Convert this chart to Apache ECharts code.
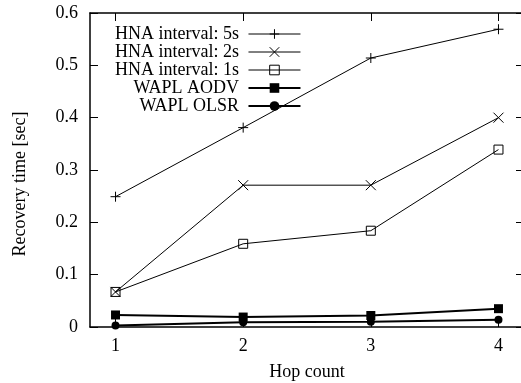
<!DOCTYPE html>
<html>
<head>
<meta charset="utf-8">
<script src="https://cdn.jsdelivr.net/npm/echarts@6/dist/echarts.min.js"></script>
<style>html,body{margin:0;padding:0;background:#fff;}#c{width:521px;height:383px;}</style>
</head>
<body>
<div id="c"></div>
<script>
const hops = [1, 2, 3, 4];
const hna5 = [0.249, 0.381, 0.514, 0.569];
const hna2 = [0.067, 0.271, 0.271, 0.400];
const hna1 = [0.067, 0.159, 0.184, 0.339];
const waplAodv = [0.023, 0.019, 0.022, 0.035];
const waplOlsr = [0.003, 0.009, 0.010, 0.014];
const seriesNames = ['HNA interval: 5s', 'HNA interval: 2s', 'HNA interval: 1s', 'WAPL AODV', 'WAPL OLSR'];
const yTicks = [0, 0.1, 0.2, 0.3, 0.4, 0.5, 0.6];

const FONT = '"Liberation Serif", "DejaVu Serif", serif';
const pts = v => hops.map((h, i) => [h, v[i]]);

const chart = echarts.init(document.getElementById('c'), null, {renderer: 'canvas'});
const thin = {color: '#000', width: 1};
const thick = {color: '#000', width: 2};
const mk = (name, data, symbol, size, line, item) => ({
  name, type: 'line', data: pts(data), symbol, symbolSize: size,
  lineStyle: line, itemStyle: item, showSymbol: true,
  emphasis: {disabled: true}, silent: true, animation: false, z: 3
});
const strokeItem = {color: 'transparent', borderColor: '#000', borderWidth: 1};
const fillItem = {color: '#000', borderWidth: 0};

const xCommon = {
  type: 'value', min: 0.8, max: 4.2,
  axisLine: {show: true, onZero: false, lineStyle: {color: '#000', width: 1.5}},
  splitLine: {show: false},
};
const yCommon = {
  type: 'value', min: 0, max: 0.6, interval: 0.1,
  axisLine: {show: true, onZero: false, lineStyle: {color: '#000', width: 1.5}},
  splitLine: {show: false},
};

chart.setOption({
  animation: false,
  backgroundColor: '#fff',
  grid: {left: 90, top: 13, right: -3, bottom: 56, containLabel: false, outerBoundsMode: 'none'},
  xAxis: [
    Object.assign({}, xCommon, {
      position: 'bottom',
      name: 'Hop count', nameLocation: 'middle', nameGap: 36,
      nameTextStyle: {fontFamily: FONT, fontSize: 18, color: '#000'},
      axisTick: {show: true, inside: true, length: 8, customValues: hops, lineStyle: {color: '#000', width: 1}},
      axisLabel: {show: true, customValues: hops, margin: 10, fontFamily: FONT, fontSize: 18, color: '#000'}
    }),
    Object.assign({}, xCommon, {
      position: 'top',
      axisTick: {show: true, inside: true, length: 8, customValues: hops, lineStyle: {color: '#000', width: 1}},
      axisLabel: {show: false}
    })
  ],
  yAxis: [
    Object.assign({}, yCommon, {
      position: 'left',
      axisTick: {show: true, inside: true, length: 8, lineStyle: {color: '#000', width: 1}},
      axisLabel: {show: true, margin: 12, fontFamily: FONT, fontSize: 18, color: '#000',
        customValues: yTicks,
        formatter: v => String(Math.round(v * 10) / 10)}
    }),
    Object.assign({}, yCommon, {
      position: 'right',
      axisTick: {show: true, inside: true, length: 8, lineStyle: {color: '#000', width: 1}},
      axisLabel: {show: false}
    })
  ],
  legend: {
    show: true, orient: 'vertical', align: 'right',
    left: 115, top: 25, padding: 0, itemGap: 0,
    itemWidth: 52, itemHeight: 12,
    selectedMode: false,
    formatter: n => n + ' ',
    textStyle: {fontFamily: FONT, fontSize: 18, color: '#000', lineHeight: 18},
    data: seriesNames.map((n, i) => ({
      name: n,
      lineStyle: {color: '#000', width: i < 3 ? 1 : 2},
      itemStyle: i < 3 ? strokeItem : fillItem
    }))
  },
  graphic: [{
    type: 'text', x: 20, y: 184, rotation: Math.PI / 2,
    style: {text: 'Recovery time [sec]', font: '18px ' + FONT, fill: '#000', align: 'center', verticalAlign: 'middle'}
  }],
  series: [
    mk(seriesNames[0], hna5, 'path://M0,-1L0,1M-1,0L1,0', 10, thin, strokeItem),
    mk(seriesNames[1], hna2, 'path://M-1,-1L1,1M-1,1L1,-1', 10, thin, strokeItem),
    mk(seriesNames[2], hna1, 'rect', 9, thin, strokeItem),
    mk(seriesNames[3], waplAodv, 'rect', 9, thick, fillItem),
    mk(seriesNames[4], waplOlsr, 'circle', 8, thick, fillItem)
  ]
});
</script>
</body>
</html>
